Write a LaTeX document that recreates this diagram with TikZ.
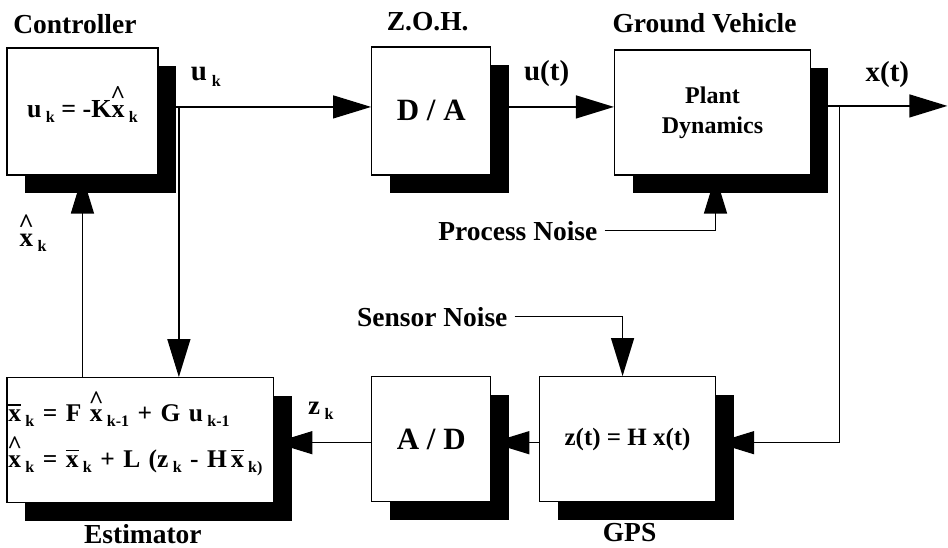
\documentclass[tikz,border=0pt]{standalone}
\usepackage{fontspec}
\setmainfont{Liberation Serif}
\usetikzlibrary{arrows.meta,shadows,calc}
\pgfdeclarelayer{bg}
\pgfsetlayers{bg,main}
\newcommand\sz[1]{\fontsize{#1}{#1}\selectfont}
\newcommand\sbk[1]{\,\raisebox{-0.2em}{\fontsize{16}{16}\selectfont #1}}
\newcommand\hatx{\ooalign{x\cr\hidewidth\raisebox{0.52em}{\textasciicircum}\hidewidth\cr}}
\newcommand\barx{\ooalign{x\cr\rule[0.62em]{0.5em}{0.07em}\cr}}
\begin{document}
\begin{tikzpicture}[x=1pt,y=-1pt,
  blk/.style={draw, line width=1.3pt, fill=white, inner sep=0pt,
    drop shadow={shadow xshift=18pt, shadow yshift=-18pt, fill=black, opacity=1}},
  lbl/.style={font=\bfseries\sz{27.5}, inner sep=0pt},
  conn/.style={line width=1.3pt, -{Triangle[length=38pt,width=23pt]}},
  wire/.style={line width=1.3pt}]
% blocks
\node[blk, minimum width=151pt, minimum height=127pt, font=\bfseries\sz{26}] (ctrl) at (82.5,111.5)
  {\raisebox{-3pt}{u\sbk{k} = -K\hatx\sbk{k}}};
\node[blk, minimum width=119pt, minimum height=128pt, font=\bfseries\sz{31}] (da) at (431.5,111) {D / A};
\node[blk, minimum width=196pt, minimum height=125pt, font=\bfseries\sz{24}, align=center] (plant) at (713,112.5)
  {Plant\\[6pt]Dynamics};
\node[blk, minimum width=267pt, minimum height=125pt, font=\bfseries\sz{25.5}, text width=264pt, align=left] (est) at (140.5,440.5)
  {\barx\sbk{k} = F \hatx\sbk{k-1} + G u\sbk{k-1}\\[20pt]
   \hatx\sbk{k} = \barx\sbk{k} + L (z\sbk{k} - H\,\barx\sbk{k)}};
\node[blk, minimum width=119pt, minimum height=125pt, font=\bfseries\sz{31}] (ad) at (431.5,439.5) {A / D};
\node[blk, minimum width=176pt, minimum height=125pt, font=\bfseries\sz{25}] (gps) at (628,439.5) {z(t) = H x(t)};
% labels
\node[lbl] (lctrl) at (75,24) {Controller};
\node[lbl] (lzoh) at (428,22) {Z.O.H.};
\node[lbl] (lgv) at (705,23) {Ground Vehicle};
\node[lbl] (lest) at (143,534) {Estimator};
\node[lbl] (lgps) at (630,533) {GPS};
\node[lbl, anchor=east] (lpn) at (598,231) {Process Noise};
\node[lbl, anchor=east] (lsn) at (508,317) {Sensor Noise};
\node[lbl, font=\bfseries\sz{29}] (luk) at (206,77) {u\sbk{k}};
\node[lbl, font=\bfseries\sz{29}] (lut) at (547,74) {u(t)};
\node[lbl, font=\bfseries\sz{29}] (lxt) at (888,75) {x(t)};
\node[lbl, font=\bfseries\sz{27}] (lxh) at (33,243) {\hatx\sbk{k}};
\node[lbl, font=\bfseries\sz{27}] (lzk) at (321,411) {z\sbk{k}};
% junctions
\coordinate (ukj) at (179,107);
\coordinate (xo) at (948,106);
\coordinate (tap) at (840,106);
\coordinate (fb) at (840,443);
\coordinate (pn) at (716,231);
\coordinate (sn) at (623,317);
\begin{pgfonlayer}{bg}
\fill[white] (0,0) rectangle (948,548);
\draw[conn] (ctrl.east |- ukj) -- (da.west |- ukj);
\draw[conn] (ukj) -- (ukj |- est.north);
\draw[conn] (da.east |- ukj) -- (plant.west |- ukj);
\draw[conn] (plant.east |- xo) -- (xo);
\draw[wire] (tap) -- (fb);
\draw[conn] (fb) -- (gps.east |- fb);
\draw[conn] (gps.west |- fb) -- (ad.east |- fb);
\draw[conn] (ad.west |- fb) -- (est.east |- fb);
\draw[conn] (est.north -| ctrl.south) -- (ctrl.south);
\draw[conn] ([xshift=7pt]lpn.east) -- (pn) -- (pn |- plant.south);
\draw[conn] ([xshift=7pt]lsn.east) -- (sn) -- (sn |- gps.north);
\end{pgfonlayer}
\end{tikzpicture}
\end{document}
